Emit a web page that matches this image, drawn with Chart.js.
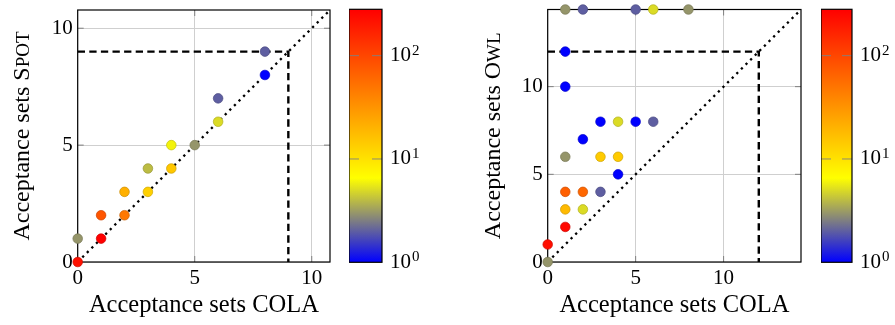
<!DOCTYPE html>
<html><head><meta charset="utf-8">
<script src="https://cdn.jsdelivr.net/npm/chart.js@4"></script>
<style>
html,body{margin:0;padding:0;background:#fff;width:895px;height:325px;overflow:hidden;}
canvas{position:absolute;top:0;}
</style></head><body>
<canvas id="p1" width="340" height="325" style="left:0px"></canvas>
<canvas id="c1" width="95" height="325" style="left:349px"></canvas>
<canvas id="p2" width="340" height="325" style="left:470px"></canvas>
<canvas id="c2" width="74" height="325" style="left:821px"></canvas>
<script>
// ---------- data ----------
const spotCola  = [0, 0, 1, 1, 2, 2, 3, 3, 4, 4, 5, 6, 6, 8, 8];
const spotSpot  = [0, 1, 1, 2, 2, 3, 3, 4, 4, 5, 5, 6, 7, 8, 9];
const spotCount = [220, 3, 280, 80, 48, 21, 13, 4, 15, 6, 3, 5, 2, 1, 2];

const OWL_TOP = 14.4; // values beyond the axis, drawn on the top edge
const owlCola  = [0, 0, 1, 1, 2, 1, 2, 3, 4, 1, 3, 4, 2, 3, 4, 5, 6, 1, 1, 1, 2, 5, 6, 8];
const owlOwl   = [0, 1, 2, 3, 3, 4, 4, 4, 5, 6, 6, 6, 7, 8, 8, 8, 8, 10, 12, OWL_TOP, OWL_TOP, OWL_TOP, OWL_TOP, OWL_TOP];
const owlCount = [3, 230, 250, 18, 5, 69, 62, 2, 1, 3, 14, 14, 1, 1, 5, 1, 2, 1, 1, 3, 2, 2, 5, 3];

const axisTicks = [0, 5, 10];
const spotMax = 10.78, spotThreshold = 9;
const owlMax = 14.4, owlThreshold = 12;
const CMAX = 281;
const cbTicks = [1, 10, 100];
const cbTickBase = '10';
const cbTickExp = ['0', '1', '2'];

// ---------- helpers ----------
const FAMILY = "'Liberation Serif', 'DejaVu Serif', serif";
Chart.defaults.font.family = FAMILY;
Chart.defaults.color = '#000';

const STOPS = [[0, [0, 0, 255]], [1/6, [128, 128, 128]], [1/3, [255, 255, 0]], [1, [255, 0, 0]]];
function cmap(t) {
  t = Math.max(0, Math.min(1, t));
  for (let i = 1; i < STOPS.length; i++) {
    if (t <= STOPS[i][0]) {
      const [t0, c0] = STOPS[i-1], [t1, c1] = STOPS[i];
      const f = (t - t0) / (t1 - t0);
      return c0.map((v, k) => Math.round(v + (c1[k] - v) * f));
    }
  }
  return STOPS[STOPS.length-1][1];
}
function colorOf(c, dark) {
  const rgb = cmap(Math.log10(c) / Math.log10(CMAX));
  const k = dark ? 0.8 : 1;
  return `rgb(${Math.round(rgb[0]*k)},${Math.round(rgb[1]*k)},${Math.round(rgb[2]*k)})`;
}
function noScalePadding(s) { s.paddingTop = 0; s.paddingBottom = 0; s.paddingLeft = 0; s.paddingRight = 0; }

const framePlugin = {
  id: 'frame',
  beforeDatasetsDraw(chart) {
    const {ctx, chartArea: a} = chart;
    const xs = chart.scales.x, ys = chart.scales.y;
    ctx.save();
    ctx.strokeStyle = '#808080'; ctx.lineWidth = 1;
    const L = 6;
    ctx.beginPath();
    axisTicks.forEach(v => {
      if (v <= 0) return;
      const px = xs.getPixelForValue(v), py = ys.getPixelForValue(v);
      ctx.moveTo(px, a.bottom); ctx.lineTo(px, a.bottom - L);
      ctx.moveTo(px, a.top); ctx.lineTo(px, a.top + L);
      ctx.moveTo(a.left, py); ctx.lineTo(a.left + L, py);
      ctx.moveTo(a.right, py); ctx.lineTo(a.right - L, py);
    });
    ctx.stroke();
    ctx.strokeStyle = '#000'; ctx.lineWidth = 1.2;
    ctx.strokeRect(a.left, a.top, a.right - a.left, a.bottom - a.top);
    ctx.restore();
  }
};

const yTitlePlugin = {
  id: 'ytitle',
  afterDraw(chart) {
    const o = chart.options.plugins.ytitle; if (!o) return;
    const ctx = chart.ctx; ctx.save();
    const f1 = `${o.size}px ${FAMILY}`, f2 = `${o.scSize}px ${FAMILY}`;
    ctx.font = f1; const w1 = ctx.measureText(o.main).width;
    ctx.font = f2; const w2 = ctx.measureText(o.sc).width;
    const total = w1 + w2;
    const cy = (chart.chartArea.top + chart.chartArea.bottom) / 2;
    ctx.translate(o.x, cy); ctx.rotate(-Math.PI / 2);
    ctx.textBaseline = 'alphabetic'; ctx.textAlign = 'left'; ctx.fillStyle = '#000';
    ctx.font = f1; ctx.fillText(o.main, -total / 2, 0);
    ctx.font = f2; ctx.fillText(o.sc, -total / 2 + w1, 0);
    ctx.restore();
  }
};

function makeScatter(id, xs, ys, counts, maxV, thr, titleMain, titleSC, pad, titleX) {
  const pts = xs.map((x, i) => ({x, y: ys[i]}));
  new Chart(document.getElementById(id), {
    type: 'scatter',
    data: {
      datasets: [
        {
          data: pts, order: 0, clip: false,
          pointRadius: 4.8, pointHoverRadius: 4.8, pointBorderWidth: 0.7,
          pointBackgroundColor: c => colorOf(counts[c.dataIndex], false),
          pointBorderColor: c => colorOf(counts[c.dataIndex], true)
        },
        {
          type: 'line', order: 1, data: [{x: 0, y: 0}, {x: maxV, y: maxV}],
          borderColor: '#000', borderWidth: 2.3, borderDash: [2.3, 4.2], pointRadius: 0, fill: false
        },
        {
          type: 'line', order: 2, data: [{x: 0, y: thr}, {x: thr, y: thr}, {x: thr, y: 0}],
          borderColor: '#000', borderWidth: 2.4, borderDash: [7.3, 4.3], pointRadius: 0, fill: false
        }
      ]
    },
    options: {
      responsive: false, animation: false, events: [],
      layout: {autoPadding: false, padding: pad},
      plugins: {legend: {display: false}, tooltip: {enabled: false},
        ytitle: {main: titleMain, sc: titleSC, size: 24, scSize: 19, x: titleX}},
      scales: {
        x: {
          type: 'linear', min: 0, max: maxV,
          afterBuildTicks: s => { s.ticks = axisTicks.map(v => ({value: v})); },
          afterFit: s => { s.height = 63; noScalePadding(s); },
          grid: {color: '#cfcfcf', lineWidth: 1, drawTicks: false},
          border: {display: false},
          ticks: {font: {size: 21}, padding: 4, maxRotation: 0},
          title: {display: true, text: 'Acceptance sets COLA', font: {size: 24.5}, padding: {top: 0, bottom: 5}}
        },
        y: {
          type: 'linear', min: 0, max: maxV,
          afterBuildTicks: s => { s.ticks = axisTicks.map(v => ({value: v})); },
          afterFit: s => { s.width = 77.7; noScalePadding(s); },
          grid: {color: '#cfcfcf', lineWidth: 1, drawTicks: false},
          border: {display: false},
          ticks: {font: {size: 21}, padding: 5}
        }
      }
    },
    plugins: [framePlugin, yTitlePlugin]
  });
}

function gradientFor(chart) {
  const a = chart.chartArea; if (!a) return '#888';
  const g = chart.ctx.createLinearGradient(0, a.bottom, 0, a.top);
  STOPS.forEach(([t, c]) => g.addColorStop(t, `rgb(${c[0]},${c[1]},${c[2]})`));
  return g;
}

const cbPlugin = {
  id: 'cbframe',
  afterDatasetsDraw(chart) {
    const {ctx, chartArea: a} = chart; const ys = chart.scales.y;
    ctx.save();
    ctx.strokeStyle = 'rgba(128,128,128,0.9)'; ctx.lineWidth = 1;
    ctx.beginPath();
    cbTicks.forEach(v => {
      if (v <= 1) return;
      const py = ys.getPixelForValue(v);
      ctx.moveTo(a.left, py); ctx.lineTo(a.left + 10, py);
      ctx.moveTo(a.right, py); ctx.lineTo(a.right - 10, py);
    });
    ctx.stroke();
    ctx.strokeStyle = '#000'; ctx.lineWidth = 1.2;
    ctx.strokeRect(a.left, a.top, a.right - a.left, a.bottom - a.top);
    ctx.restore();
  },
  afterDraw(chart) {
    // exponents of the 10^k tick labels
    const {ctx, chartArea: a} = chart; const ys = chart.scales.y;
    ctx.save();
    ctx.font = `21px ${FAMILY}`;
    const wBase = ctx.measureText(cbTickBase).width;
    ctx.font = `15px ${FAMILY}`;
    ctx.fillStyle = '#000'; ctx.textBaseline = 'alphabetic'; ctx.textAlign = 'left';
    cbTicks.forEach((v, i) => {
      const py = ys.getPixelForValue(v);
      ctx.fillText(cbTickExp[i], a.right + 8 + wBase + 1, py - 1);
    });
    ctx.restore();
  }
};

function makeColorbar(id, axisW, pad) {
  new Chart(document.getElementById(id), {
    type: 'bar',
    data: {labels: [''], datasets: [{data: [[1, CMAX]], backgroundColor: c => gradientFor(c.chart),
      borderWidth: 0, barPercentage: 1, categoryPercentage: 1}]},
    options: {
      responsive: false, animation: false, events: [],
      layout: {autoPadding: false, padding: pad},
      plugins: {legend: {display: false}, tooltip: {enabled: false}},
      scales: {
        x: {display: false},
        y: {
          type: 'logarithmic', position: 'right', min: 1, max: CMAX,
          afterBuildTicks: s => { s.ticks = cbTicks.map(v => ({value: v})); },
          afterFit: s => { s.width = axisW; noScalePadding(s); },
          grid: {display: false, drawTicks: false}, border: {display: false},
          ticks: {font: {size: 21}, padding: 8, callback: () => cbTickBase}
        }
      }
    },
    plugins: [cbPlugin]
  });
}

makeScatter('p1', spotCola, spotSpot, spotCount, spotMax, spotThreshold, 'Acceptance sets S', 'POT',
  {left: 0, right: 10, top: 10, bottom: 0}, 29);
makeScatter('p2', owlCola, owlOwl, owlCount, owlMax, owlThreshold, 'Acceptance sets O', 'WL',
  {left: 0, right: 9, top: 9.5, bottom: 0}, 30);
makeColorbar('c1', 62, {left: 0, right: 0, top: 9.3, bottom: 62.7});
makeColorbar('c2', 43, {left: 0, right: 0, top: 9.3, bottom: 62.7});
</script>
</body></html>
